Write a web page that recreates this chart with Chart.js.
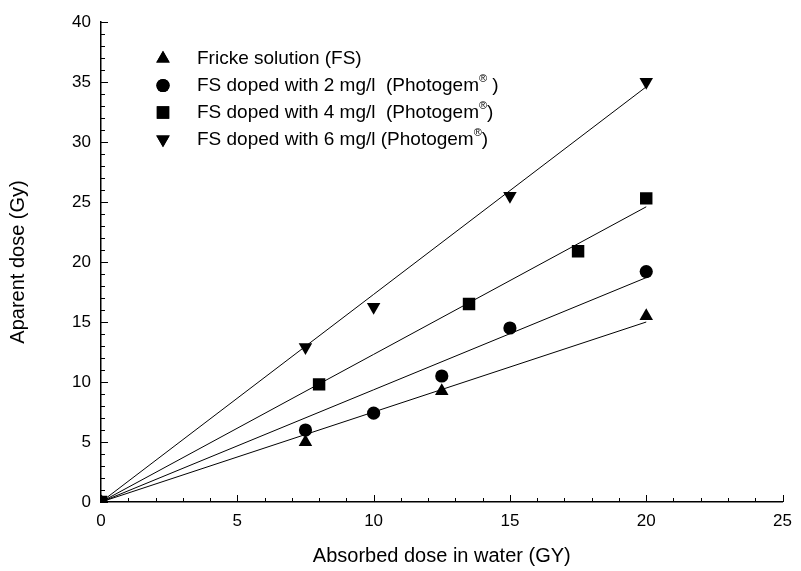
<!DOCTYPE html>
<html>
<head>
<meta charset="utf-8">
<script src="https://cdn.jsdelivr.net/npm/chart.js@4.4.1/dist/chart.umd.min.js"></script>
<style>
  html, body { margin: 0; padding: 0; background: #fff; }
  #wrap { width: 801px; height: 571px; }
</style>
</head>
<body>
<div id="wrap"><canvas id="doseChart" width="801" height="571"></canvas></div>
<script>
// measured points (x = absorbed dose in water, y = apparent dose)
const fsX = [0, 7.5, 12.5, 20];
const fsY = [0, 5.0, 9.25, 15.5];
const dop2X = [0, 7.5, 10, 12.5, 15, 20];
const dop2Y = [0, 6.0, 7.4, 10.5, 14.5, 19.2];
const dop4X = [0, 8, 13.5, 17.5, 20];
const dop4Y = [0, 9.8, 16.5, 20.9, 25.3];
const dop6X = [0, 7.5, 10, 15, 20];
const dop6Y = [0, 12.9, 16.25, 25.5, 35.0];

// fitted lines through the origin: value at x = fitEndX
const fitEndX = 20;
const fitEndY = [15.0, 18.7, 24.6, 34.6];

const seriesLabels = [
    "Fricke solution (FS)",
    "FS doped with 2 mg/l  (Photogem® )",
    "FS doped with 4 mg/l  (Photogem®)",
    "FS doped with 6 mg/l (Photogem®)"
];

const xTicks = [0, 5, 10, 15, 20, 25];
const yTicks = [0, 5, 10, 15, 20, 25, 30, 35, 40];

const font = "'Liberation Sans', Arial, sans-serif";

function points(xs, ys) {
    return xs.map((x, i) => ({ x: x, y: ys[i] }));
}

const markers = [
    { pointStyle: "triangle", radius: 7.8, rotation: 0 },
    { pointStyle: "circle", radius: 6.6, rotation: 0 },
    { pointStyle: "rect", radius: 8.8, rotation: 0 },
    { pointStyle: "triangle", radius: 7.8, rotation: 180 }
];

const allX = [fsX, dop2X, dop4X, dop6X];
const allY = [fsY, dop2Y, dop4Y, dop6Y];

var datasets = [];
for (let i = 0; i < 4; i++) {
    datasets.push({
        type: "line",
        data: [{ x: 0, y: 0 }, { x: fitEndX, y: fitEndY[i] }],
        borderColor: "#000",
        borderWidth: 1,
        pointRadius: 0,
        fill: false,
        order: 2
    });
}
for (let i = 0; i < 4; i++) {
    datasets.push({
        type: "scatter",
        label: seriesLabels[i],
        data: points(allX[i], allY[i]),
        showLine: false,
        pointStyle: markers[i].pointStyle,
        pointRadius: markers[i].radius,
        pointRotation: markers[i].rotation,
        pointBackgroundColor: "#000",
        pointBorderColor: "#000",
        pointBorderWidth: 0,
        order: 1
    });
}

// small inward tick marks on both axes
const inwardTicks = {
    id: "inwardTicks",
    afterDatasetsDraw(chart) {
        const ctx = chart.ctx;
        const xs = chart.scales.x, ys = chart.scales.y;
        const area = chart.chartArea;
        ctx.save();
        ctx.strokeStyle = "#000";
        ctx.lineWidth = 1;
        ctx.beginPath();
        for (let v = xs.min; v <= xs.max; v++) {
            const px = Math.round(xs.getPixelForValue(v)) + 0.5;
            const len = v % 5 === 0 ? 7 : 4;
            ctx.moveTo(px, area.bottom);
            ctx.lineTo(px, area.bottom - len);
        }
        for (let v = ys.min; v <= ys.max; v++) {
            const py = Math.round(ys.getPixelForValue(v)) + 0.5;
            const len = v % 5 === 0 ? 7 : 4;
            ctx.moveTo(area.left, py);
            ctx.lineTo(area.left + len, py);
        }
        ctx.stroke();
        ctx.restore();
    }
};

// legend inside the plot, with a superscript ®
const insideLegend = {
    id: "insideLegend",
    afterDatasetsDraw(chart) {
        const ctx = chart.ctx;
        const symX = 163, textX = 197, top = 58.5, step = 27;
        ctx.save();
        ctx.fillStyle = "#000";
        ctx.textBaseline = "middle";
        seriesLabels.forEach((label, i) => {
            const y = top + i * step;
            const m = markers[i];
            Chart.helpers.drawPoint(ctx, {
                pointStyle: m.pointStyle,
                rotation: m.rotation,
                radius: m.radius,
                borderWidth: 0
            }, symX, y);
            ctx.fill();
            let x = textX;
            const parts = label.split("®");
            parts.forEach((part, j) => {
                ctx.font = "19px " + font;
                ctx.fillText(part, x, y);
                x += ctx.measureText(part).width;
                if (j < parts.length - 1) {
                    ctx.font = "11px " + font;
                    ctx.fillText("®", x, y - 7);
                    x += ctx.measureText("®").width;
                }
            });
        });
        ctx.restore();
    }
};

const ctx = document.getElementById("doseChart");

new Chart(ctx, {
    data: { datasets: datasets },
    options: {
        responsive: false,
        animation: false,
        layout: { padding: { top: 22, right: 10, left: 0, bottom: 0 } },
        plugins: {
            legend: { display: false },
            tooltip: { enabled: false }
        },
        scales: {
            x: {
                type: "linear",
                min: 0,
                max: 25,
                afterBuildTicks: (s) => { s.ticks = xTicks.map(v => ({ value: v })); },
                grid: { display: true, drawOnChartArea: false, drawTicks: false },
                border: { display: true, color: "#000", width: 1.5 },
                ticks: { color: "#000", padding: 9, font: { size: 17, family: font } },
                title: {
                    display: true,
                    text: "Absorbed dose in water (GY)",
                    color: "#000",
                    font: { size: 20, family: font },
                    padding: { top: 10, bottom: 3 }
                },
                afterFit: (s) => { s.height = 69; }
            },
            y: {
                type: "linear",
                min: 0,
                max: 40,
                afterBuildTicks: (s) => { s.ticks = yTicks.map(v => ({ value: v })); },
                grid: { display: true, drawOnChartArea: false, drawTicks: false },
                border: { display: true, color: "#000", width: 1.5 },
                ticks: { color: "#000", padding: 10, font: { size: 17, family: font } },
                title: {
                    display: true,
                    text: "Aparent dose (Gy)",
                    color: "#000",
                    font: { size: 20, family: font },
                    padding: { top: 6, bottom: 16 }
                },
                afterFit: (s) => { s.width = 101; }
            }
        }
    },
    plugins: [inwardTicks, insideLegend]
});
</script>
</body>
</html>
